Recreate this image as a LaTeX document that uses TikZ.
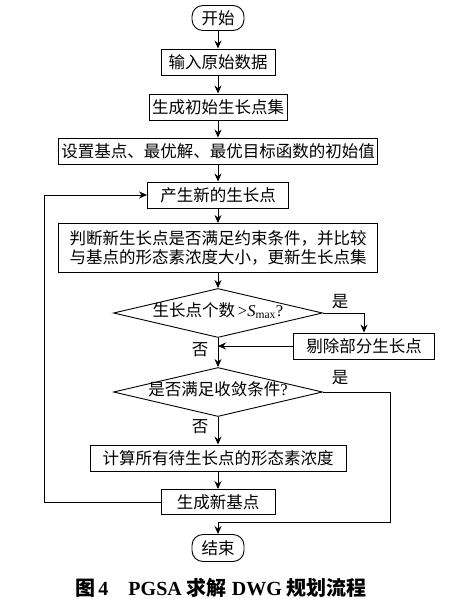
\documentclass[tikz,border=0pt]{standalone}
\usepackage{fontspec}
\setmainfont{Liberation Serif}
\newfontfamily\cjk{Noto Sans CJK SC}
\usetikzlibrary{arrows.meta,shapes.geometric}
\tikzset{
  txt/.style={font=\fontsize{16.5}{19}\selectfont\cjk},
  proc/.style={txt,draw,line width=0.9pt,minimum height=26pt,inner sep=0pt},
  term/.style={proc,rounded corners=11pt,minimum width=52pt},
  decision/.style={txt,draw,diamond,line width=0.9pt,aspect=4.27,inner sep=0pt,
    text height=8pt,text depth=2pt,minimum width=209pt,minimum height=49pt},
  lbl/.style={txt,inner sep=0pt},
  flow/.style={-{Stealth[length=8pt,width=7pt]},line width=0.9pt},
  line/.style={line width=0.9pt}
}
\begin{document}
\begin{tikzpicture}[x=1pt,y=-1pt]
      \useasboundingbox (0,0) rectangle (453,599);
      \path
        (218,18) node[term,minimum height=25pt] (start){开始}
        (218,62) node[proc,minimum width=114pt] (input){输入原始数据}
        (218,107) node[proc,minimum width=138pt] (init){生成初始生长点集}
        (218,151) node[proc,minimum width=319pt] (setup){设置基点、最优解、最优目标函数的初始值}
        (218,195) node[proc,minimum width=141pt] (gen){产生新的生长点}
        (218,248) node[proc,minimum width=319pt,minimum height=49pt,align=center] (judge)
          {判断新生长点是否满足约束条件，并比较\\与基点的形态素浓度大小，更新生长点集}
        (218,313) node[decision] (dec1){生长点个数\,{\rmfamily>\textit{S}\textsubscript{max}?}}
        (364,346) node[proc,minimum width=141pt] (remove){剔除部分生长点}
        (218,392) node[decision] (dec2){是否满足收敛条件{\rmfamily?}}
        (218,458) node[proc,minimum width=256pt] (calc){计算所有待生长点的形态素浓度}
        (218,502) node[proc,minimum width=114pt,minimum height=25pt] (newbase){生成新基点}
        (218,548) node[term,minimum height=27pt] (stop){结束};
      \path
        (340,302) node[lbl] (yes1){是}
        (200,350) node[lbl] (no1){否}
        (340,378) node[lbl] (yes2){是}
        (200,427) node[lbl] (no2){否};
      \coordinate (back) at (44,502);
      \coordinate (out) at (390,522);
      \coordinate (join1) at (218,346);
      \begin{scope}[flow]
        \draw (start) to (input);
        \draw (input) to (init);
        \draw (init) to (setup);
        \draw (setup) to (gen);
        \draw (gen) to (judge);
        \draw (judge) to (dec1);
        \draw (dec1.east) -| (remove.north);
        \draw (remove.west) to (join1);
        \draw (dec1.south) to (dec2.north);
        \draw (dec2.south) to (calc);
        \draw (calc) to (newbase);
        \draw (newbase.west) -- (back) |- (gen.west);
        \draw (dec2.east) -| (out) -| (stop.north);
      \end{scope}
      \node[font=\fontsize{20}{22}\selectfont\bfseries] (caption) at (221,588)
        {{\cjk 图}\,4\quad PGSA {\cjk 求解} DWG {\cjk 规划流程}};
    \end{tikzpicture}
\end{document}
